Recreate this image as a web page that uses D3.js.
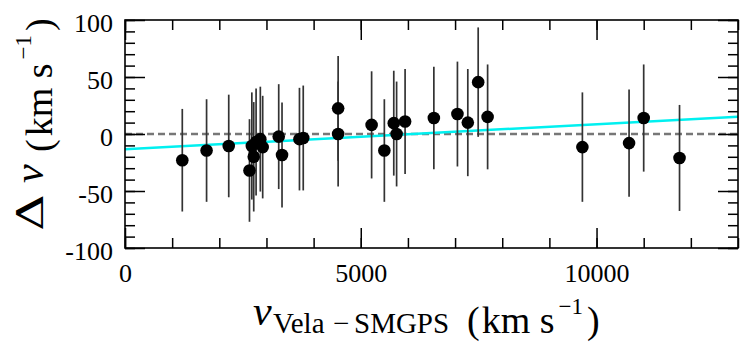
<!DOCTYPE html>
<html><head><meta charset="utf-8">
<script src="https://cdn.jsdelivr.net/npm/d3@7"></script>
<style>body{margin:0;background:#fff}svg{display:block}</style></head>
<body>
<script>
// ---- data ----
const velocity = [1215, 1730, 2200, 2640, 2690, 2730, 2780, 2870, 2920, 3260, 3330, 3700, 3780,
  4520, 4520, 5230, 5500, 5700, 5760, 5940, 6550, 7050, 7270, 7490, 7690, 9700, 10690, 11000, 11760];
const deltaV = [-23, -14.5, -10.5, -32, -10.5, -20, -7, -4.5, -11.5, -2.3, -18.4, -4.5, -3.5,
  22.5, 0, 8, -14.5, 9.5, 0, 11, 14, 17.5, 10, 45.5, 15, -11.5, -8, 14, -21];
const errors = [45, 45, 45, 45, 47, 48, 47, 46, 45, 46, 46, 45, 46,
  46, 46, 47, 45, 46, 46, 46, 45, 46, 47, 48, 46, 48, 47, 47, 46.5];
const fitIntercept = -13.4;
const fitSlope = 0.0022;
const xDomain = [0, 13000];
const yDomain = [-100, 100];
const xMajorTicks = [0, 5000, 10000];
const xMinorTicks = d3.range(0, 13001, 1000);
const yMajorTicks = [-100, -50, 0, 50, 100];
const yMinorTicks = d3.range(-100, 101, 10);

// ---- layout ----
const FONT = '"Liberation Serif"';
const W = 748, H = 346;
const L = 125, R = 738, T = 20, B = 248;
const svg = d3.select("body").append("svg").attr("width", W).attr("height", H)
  .style("font-family", FONT);

const x = d3.scaleLinear().domain(xDomain).range([L, R]);
const y = d3.scaleLinear().domain(yDomain).range([B, T]);

svg.append("clipPath").attr("id", "plotclip").append("rect")
  .attr("x", L).attr("y", T).attr("width", R - L).attr("height", B - T);
const plot = svg.append("g").attr("clip-path", "url(#plotclip)");

// zero dashed line
plot.append("line").attr("x1", x(xDomain[0])).attr("x2", x(xDomain[1]))
  .attr("y1", y(0)).attr("y2", y(0))
  .attr("stroke", "#777").attr("stroke-width", 2.3).attr("stroke-dasharray", "7,4");

// fit line
plot.append("path")
  .datum(xDomain)
  .attr("d", d3.line().x(d => x(d)).y(d => y(fitIntercept + fitSlope * d)))
  .attr("stroke", "#00f0f0").attr("stroke-width", 2.5).attr("fill", "none");

// error bars
const pts = velocity.map((v, i) => ({v, d: deltaV[i], e: errors[i]}));
plot.selectAll("line.err").data(pts).join("line").attr("class", "err")
  .attr("x1", p => x(p.v)).attr("x2", p => x(p.v))
  .attr("y1", p => y(p.d - p.e)).attr("y2", p => y(p.d + p.e))
  .attr("stroke", "#333").attr("stroke-width", 1.7);

// points
plot.selectAll("circle").data(pts).join("circle")
  .attr("cx", p => x(p.v)).attr("cy", p => y(p.d)).attr("r", 6.3).attr("fill", "#000");

// ---- ticks (inward on all four sides) ----
function ticks(axisFn, scale, vals, size, pos) {
  const g = svg.append("g").attr("transform", pos)
    .call(axisFn(scale).tickValues(vals).tickSize(size).tickFormat(""));
  g.select(".domain").remove();
  g.selectAll("text").remove();
  g.selectAll(".tick line").attr("stroke", "#000").attr("stroke-width", 1.5);
}
ticks(d3.axisBottom, x, xMinorTicks, -10, `translate(0,${B})`);
ticks(d3.axisBottom, x, xMajorTicks, -20, `translate(0,${B})`);
ticks(d3.axisTop, x, xMinorTicks, -10, `translate(0,${T})`);
ticks(d3.axisTop, x, xMajorTicks, -20, `translate(0,${T})`);
ticks(d3.axisLeft, y, yMinorTicks, -10, `translate(${L},0)`);
ticks(d3.axisLeft, y, yMajorTicks, -20, `translate(${L},0)`);
ticks(d3.axisRight, y, yMinorTicks, -10, `translate(${R},0)`);
ticks(d3.axisRight, y, yMajorTicks, -20, `translate(${R},0)`);

// frame
svg.append("rect").attr("x", L).attr("y", T).attr("width", R - L).attr("height", B - T)
  .attr("fill", "none").attr("stroke", "#000").attr("stroke-width", 1.6);

// tick labels
const xl = svg.append("g").attr("transform", `translate(0,${B})`)
  .call(d3.axisBottom(x).tickValues(xMajorTicks).tickSize(0).tickFormat(d => String(d)));
xl.attr("font-family", null).style("font-family", FONT);
xl.select(".domain").remove();
xl.selectAll("text").attr("y", 34).attr("dy", 0).attr("font-size", 26)
  .attr("fill", "#000").style("font-family", FONT);

const yl = svg.append("g").attr("transform", `translate(${L},0)`)
  .call(d3.axisLeft(y).tickValues(yMajorTicks).tickSize(0).tickPadding(12).tickFormat(d => String(d)));
yl.attr("font-family", null).style("font-family", FONT);
yl.select(".domain").remove();
yl.selectAll("text").attr("dy", "0.44em").attr("font-size", 26)
  .attr("fill", "#000").style("font-family", FONT);

// ---- x axis label ----
const xlab = svg.append("g").style("font-family", FONT).attr("fill", "#000");
xlab.append("text").attr("x", 253).attr("y", 325).attr("font-size", 42)
  .attr("font-style", "italic").style("font-family", FONT).text("v");
const xsub = xlab.append("text").attr("y", 333).attr("font-size", 29).style("font-family", FONT);
xsub.append("tspan").attr("x", 273).text("Vela");
xsub.append("tspan").attr("x", 333).text("−");
xsub.append("tspan").attr("x", 354).text("SMGPS");
const xunit = xlab.append("text").attr("x", 467).attr("y", 333).attr("font-size", 38)
  .style("font-family", FONT);
xunit.append("tspan").text("(");
xunit.append("tspan").attr("dx", 2).text("km s");
xunit.append("tspan").attr("dx", 4).attr("dy", -19).attr("font-size", 23).text("−1");
xunit.append("tspan").attr("dx", 4).attr("dy", 19).text(")");

// ---- y axis label (rotated) ----
const ylab = svg.append("g").style("font-family", FONT).attr("fill", "#000")
  .attr("transform", "translate(52,233) rotate(-90)");
ylab.append("text").attr("x", 2).attr("y", -9).attr("font-size", 38)
  .style("font-family", '"DejaVu Serif"')
  .attr("textLength", 37).attr("lengthAdjust", "spacingAndGlyphs").text("Δ");
ylab.append("text").attr("x", 50).attr("y", -9).attr("font-size", 42).style("font-family", FONT)
  .attr("font-style", "italic").text("v");
const yunit = ylab.append("text").attr("x", 81).attr("y", 0).attr("font-size", 38)
  .style("font-family", FONT);
yunit.append("tspan").text("(");
yunit.append("tspan").attr("dx", 3).text("km s");
yunit.append("tspan").attr("dx", 4).attr("dy", -21).attr("font-size", 23).text("−1");
yunit.append("tspan").attr("dx", 4).attr("dy", 21).text(")");
</script>
</body></html>
